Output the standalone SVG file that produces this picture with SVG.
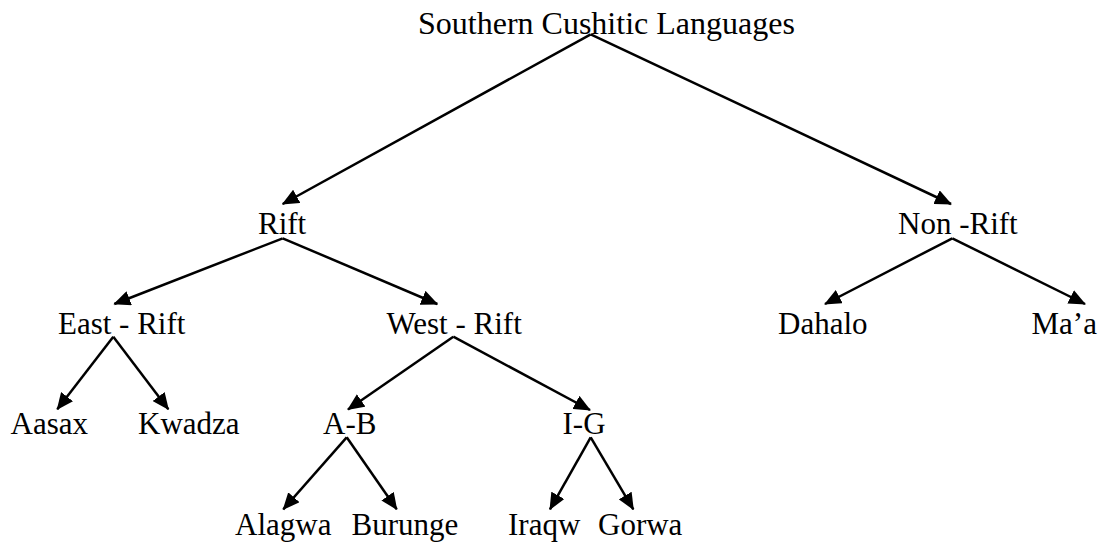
<svg xmlns="http://www.w3.org/2000/svg" width="1106" height="545" viewBox="0 0 1106 545">
<style>
text{font-family:"Liberation Serif","Times New Roman",serif;font-size:31px;fill:#000}
.title{font-size:32px}
.edge{stroke:#000;stroke-width:2.5;fill:none;marker-end:url(#ah)}
</style>
<defs>
<marker id="ah" viewBox="0 0 17 15" refX="16" refY="7.5" markerWidth="17" markerHeight="15" markerUnits="userSpaceOnUse" orient="auto">
<path d="M0,0 L17,7.5 L0,15 z" fill="#000"/>
</marker>
</defs>
<rect width="1106" height="545" fill="#fff"/>
<g id="n-root"><text class="title" x="418" y="34">Southern Cushitic Languages</text></g>
<g id="n-rift"><text x="258" y="234">Rift</text></g>
<g id="n-nonrift"><text x="898" y="234">Non -Rift</text></g>
<g id="n-east"><text x="58" y="334">East - Rift</text></g>
<g id="n-west"><text x="386.5" y="334">West - Rift</text></g>
<g id="n-dahalo"><text x="778" y="334">Dahalo</text></g>
<g id="n-maa"><text x="1031.5" y="334">Ma’a</text></g>
<g id="n-aasax"><text x="10.5" y="434">Aasax</text></g>
<g id="n-kwadza"><text x="138" y="434">Kwadza</text></g>
<g id="n-ab"><text x="323" y="434">A-B</text></g>
<g id="n-ig"><text x="562.5" y="434">I-G</text></g>
<g id="n-alagwa"><text x="235" y="535">Alagwa</text></g>
<g id="n-burunge"><text x="351.5" y="535">Burunge</text></g>
<g id="n-iraqw"><text x="508" y="535">Iraqw</text></g>
<g id="n-gorwa"><text x="598" y="535">Gorwa</text></g>
<g id="connectors">
<line class="edge" x1="590.7" y1="34.3" x2="282.7" y2="204"/>
<line class="edge" x1="590.7" y1="34.3" x2="951" y2="204"/>
<line class="edge" x1="282.7" y1="238.3" x2="114.3" y2="304"/>
<line class="edge" x1="282.7" y1="238.3" x2="437.3" y2="304"/>
<line class="edge" x1="113.3" y1="336.7" x2="57.3" y2="409.3"/>
<line class="edge" x1="113.3" y1="336.7" x2="168.3" y2="409.3"/>
<line class="edge" x1="453.3" y1="336.7" x2="348" y2="409.5"/>
<line class="edge" x1="453.3" y1="336.7" x2="590" y2="410"/>
<line class="edge" x1="952.3" y1="238.3" x2="825" y2="304"/>
<line class="edge" x1="952.3" y1="238.3" x2="1085" y2="304"/>
<line class="edge" x1="346.7" y1="437.3" x2="283.3" y2="509.3"/>
<line class="edge" x1="346.7" y1="437.3" x2="396.7" y2="509.3"/>
<line class="edge" x1="590.7" y1="437.3" x2="550" y2="509.3"/>
<line class="edge" x1="590.7" y1="437.3" x2="633.3" y2="509.3"/>
</g>
</svg>
